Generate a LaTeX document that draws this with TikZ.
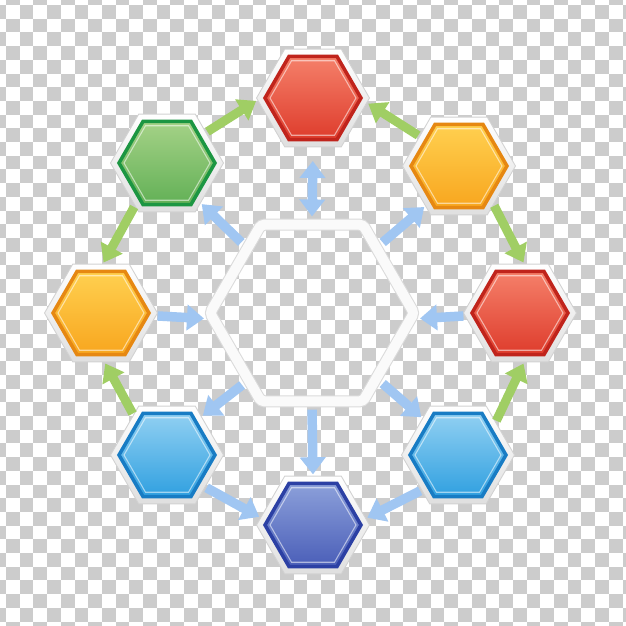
\documentclass[tikz,border=0pt]{standalone}
\usepackage{tikz}
\usetikzlibrary{shapes.geometric, arrows.meta, positioning, calc}

\definecolor{redA}{RGB}{245,128,106}
\definecolor{redB}{RGB}{222,60,44}
\definecolor{redC}{RGB}{192,36,28}
\definecolor{orangeA}{RGB}{255,208,80}
\definecolor{orangeB}{RGB}{248,166,30}
\definecolor{orangeC}{RGB}{230,136,18}
\definecolor{greenA}{RGB}{165,210,135}
\definecolor{greenB}{RGB}{98,176,86}
\definecolor{greenC}{RGB}{28,150,66}
\definecolor{skyA}{RGB}{145,208,242}
\definecolor{skyB}{RGB}{48,160,224}
\definecolor{skyC}{RGB}{24,124,196}
\definecolor{navyA}{RGB}{140,160,218}
\definecolor{navyB}{RGB}{74,94,184}
\definecolor{navyC}{RGB}{44,64,164}
\definecolor{arrblue}{RGB}{160,198,242}
\definecolor{arrgreen}{RGB}{160,206,100}

\tikzset{
    hexframe/.style={regular polygon, regular polygon sides=6, minimum size=2.26cm,
        inner sep=0pt, outer sep=0pt, top color=white, bottom color=gray!25,
        draw=gray!35, line width=0.5pt},
    hexcore/.style={regular polygon, regular polygon sides=6, minimum size=1.92cm,
        inner sep=0pt, top color=#1A, bottom color=#1B, draw=#1C, line width=2pt},
    hexshine/.style={regular polygon, regular polygon sides=6, minimum size=1.72cm,
        inner sep=0pt, draw=white, draw opacity=0.55, line width=0.6pt},
    hubhex/.style={regular polygon, regular polygon sides=6, minimum size=4.08cm,
        inner sep=0pt, outer sep=0.13cm, rounded corners=2pt, draw=gray!28,
        double=gray!4, double distance=0.2cm, line width=0.6pt},
    bluearr/.style={draw=arrblue, line width=0.19cm,
        -{Triangle[width=0.5cm,length=0.34cm]}, shorten >=1pt, shorten <=1pt},
    greenarr/.style={draw=arrgreen, line width=0.18cm,
        -{Triangle[width=0.48cm,length=0.34cm]}, shorten >=1pt, shorten <=1pt}
}

\begin{document}
\begin{tikzpicture}[x=0.02cm, y=-0.02cm]
    \useasboundingbox (0,0) rectangle (626,626);
    \begin{scope}
        \clip (0,0) rectangle (626,626);
        \fill[white] (0,0) rectangle (626,626);
        \foreach \i in {-1,...,45} {
            \foreach \j in {-1,...,45} {
                \pgfmathtruncatemacro\k{mod(\i+\j+100,2)}
                \ifnum\k=1 \fill[gray!40] (6+13.7*\i,5+13.7*\j) rectangle ++(13.7,13.7); \fi
            }
        }
    \end{scope}

    % hub
    \node[hubhex] (hub) at (312,313) {};

    % ring of hexagons
    \foreach \name/\col/\x/\y in {top/red/313/98, topright/orange/459/166,
            right/red/520/313, botright/sky/458/455, bottom/navy/313/525,
            botleft/sky/167/455, left/orange/101/313, topleft/green/167/163} {
        \node[hexframe] (\name) at (\x,\y) {};
        \node[hexcore=\col] at (\name) {};
        \node[hexshine] at (\name) {};
    }

    % ring arrows
    \draw
        (topleft.38) edge[greenarr] (top.182)
        (topright.143) edge[greenarr] (top.355)
        (topright.-48) edge[greenarr] (right.85)
        (botright.41) edge[greenarr] (right.-85)
        (topleft.233) edge[greenarr] (left.88)
        (botleft.130) edge[greenarr] (left.274)
        (botleft.-40) edge[bluearr] (bottom.172)
        (botright.224) edge[bluearr] (bottom.7)
        ;

    % hub arrows
    \draw
        (hub.90) edge[bluearr, {Triangle[width=0.5cm,length=0.34cm]}-{Triangle[width=0.5cm,length=0.34cm]}, shorten >=8pt] (top.270)
        (hub.135) edge[bluearr] (topleft.-50)
        (hub.45) edge[bluearr] (topright.230)
        (left.-3) edge[bluearr] (hub.183)
        (right.183) edge[bluearr] (hub.357)
        (hub.226) edge[bluearr] (botleft.48)
        (hub.270) edge[bluearr] (bottom.90)
        (hub.315) edge[bluearr] (botright.134)
        ;
\end{tikzpicture}
\end{document}
